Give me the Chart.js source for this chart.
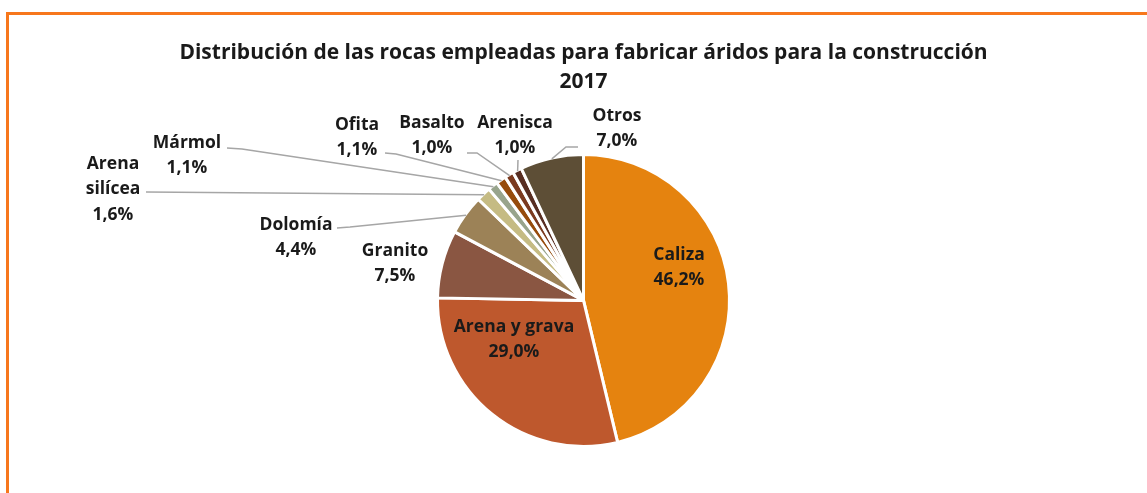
<!DOCTYPE html>
<html>
<head>
<meta charset="utf-8">
<script src="https://cdn.jsdelivr.net/npm/chart.js@4"></script>
<style>
    html, body { margin: 0; padding: 0; background: #fff; }
    #wrap { position: relative; width: 1147px; height: 493px; }
    #frame {
        position: absolute; left: 6px; top: 12px; right: 0; bottom: 0;
        border-left: 3px solid #F7771C; border-top: 3px solid #F7771C;
    }
    canvas { position: absolute; left: 0; top: 0; }
</style>
</head>
<body>
<div id="wrap">
    <div id="frame"></div>
    <canvas id="rocas" width="1147" height="493"></canvas>
</div>
<script>
// Distribución de rocas 2017 (%)
const categories = ['Caliza', 'Arena y grava', 'Granito', 'Dolomía', 'Arena silícea', 'Mármol', 'Ofita', 'Basalto', 'Arenisca', 'Otros'];
const shares = [46.2, 29.0, 7.5, 4.4, 1.6, 1.1, 1.1, 1.0, 1.0, 7.0];
const labelLines = [['Caliza'], ['Arena y grava'], ['Granito'], ['Dolomía'], ['Arena', 'silícea'], ['Mármol'], ['Ofita'], ['Basalto'], ['Arenisca'], ['Otros']];

const sliceColors = ['#E5830F', '#BE582D', '#8A5642', '#9C8257', '#C5BB83', '#98A48C', '#964B0C', '#7B3A1F', '#582E22', '#5D4E36'];

// where each label sits, and the bend of its leader line (pixels)
const labelSpots = [
    { x: 679, y: 255 },
    { x: 514, y: 327 },
    { x: 395, y: 251 },
    { x: 296, y: 225, line: [[337, 228], [350, 227]] },
    { x: 113, y: 164, line: [[146, 192]] },
    { x: 187, y: 143, line: [[227, 148], [242, 149]] },
    { x: 357, y: 125, line: [[385, 153], [396, 154]] },
    { x: 432, y: 123, line: [[467, 153], [477, 153]] },
    { x: 515, y: 123, line: [[518, 160]] },
    { x: 617, y: 116, line: [[578, 147], [566, 147]] }
];

const FONT = '"Open Sans", sans-serif';

function fmtPct(v) {
    return v.toFixed(1).replace('.', ',') + '%';
}

const pieLabels = {
    id: 'pieLabels',
    afterDatasetsDraw(chart) {
        const ctx = chart.ctx;
        const arcs = chart.getDatasetMeta(0).data;
        ctx.save();
        // leader lines
        ctx.strokeStyle = '#A6A6A6';
        ctx.lineWidth = 1.5;
        arcs.forEach((arc, i) => {
            const spot = labelSpots[i];
            if (!spot.line) return;
            const p = arc.getProps(['x', 'y', 'startAngle', 'endAngle', 'outerRadius'], true);
            const mid = (p.startAngle + p.endAngle) / 2;
            const ax = p.x + Math.cos(mid) * (p.outerRadius - 1);
            const ay = p.y + Math.sin(mid) * (p.outerRadius - 1);
            ctx.beginPath();
            ctx.moveTo(spot.line[0][0], spot.line[0][1]);
            for (let k = 1; k < spot.line.length; k++) {
                ctx.lineTo(spot.line[k][0], spot.line[k][1]);
            }
            ctx.lineTo(ax, ay);
            ctx.stroke();
        });
        // texts
        ctx.fillStyle = '#1A1A1A';
        ctx.font = 'bold 17.5px ' + FONT;
        ctx.textAlign = 'center';
        ctx.textBaseline = 'middle';
        arcs.forEach((arc, i) => {
            const spot = labelSpots[i];
            const lines = labelLines[i].concat([fmtPct(shares[i])]);
            lines.forEach((t, k) => {
                ctx.fillText(t, spot.x, spot.y + k * 25.5);
            });
        });
        ctx.restore();
    }
};

new Chart(document.getElementById('rocas'), {
    type: 'pie',
    data: {
        labels: categories,
        datasets: [{
            data: shares,
            backgroundColor: sliceColors,
            borderColor: '#fff',
            borderWidth: 3
        }]
    },
    options: {
        responsive: false,
        animation: false,
        radius: 146,
        layout: {
            padding: { left: 20, right: 0, top: 0, bottom: 49 }
        },
        plugins: {
            legend: { display: false },
            tooltip: { enabled: false },
            title: {
                display: true,
                text: ['Distribución de las rocas empleadas para fabricar áridos para la construcción', '2017'],
                color: '#1A1A1A',
                font: { family: FONT, size: 21, weight: 'bold', lineHeight: 1.4 },
                padding: { top: 38, bottom: 60 }
            }
        }
    },
    plugins: [pieLabels]
});
</script>
</body>
</html>
